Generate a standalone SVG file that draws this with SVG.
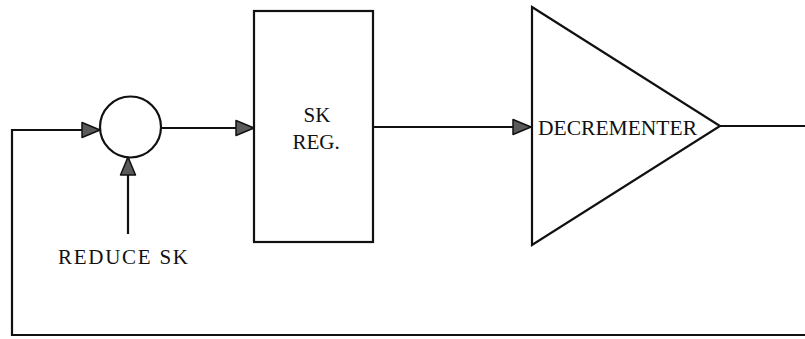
<svg xmlns="http://www.w3.org/2000/svg" width="805" height="339" viewBox="0 0 805 339">
<defs>
<marker id="arr" viewBox="0 0 20 18" refX="19" refY="9" markerWidth="20" markerHeight="18" markerUnits="userSpaceOnUse" orient="auto">
<path d="M1,1.5 L19,9 L1,16.5 Z" fill="#5a5a5a" stroke="#111" stroke-width="1.5" stroke-linejoin="round"/>
</marker>
</defs>
<style>
.s{fill:#fff;stroke:#111;stroke-width:2.2}
.c{fill:none;stroke:#111;stroke-width:2.2}
.a{marker-end:url(#arr)}
.t{font-family:"Liberation Serif",serif;font-size:21px;fill:#111}
.m{font-family:"Liberation Serif",serif;font-size:21px;fill:#111}
</style>
<g id="connectors">
<path class="c a" d="M12,336 L12,130 L100,130"/>
<path class="c a" d="M128,234 L128,157"/>
<path class="c a" d="M161,128 L254,128"/>
<path class="c a" d="M373,127 L531,127"/>
<path class="c" d="M720,126 L805,126"/>
<path class="c" d="M11,335 L805,335"/>
</g>
<g id="adder">
<circle class="s" cx="130.5" cy="127" r="30.5"/>
</g>
<g id="reduce-sk">
<text class="m" x="58" y="264" textLength="130" lengthAdjust="spacing">REDUCE SK</text>
</g>
<g id="sk-reg">
<rect class="s" x="254" y="11" width="119" height="231"/>
<text class="t" x="317" y="122" text-anchor="middle">SK</text>
<text class="t" x="316" y="149" text-anchor="middle">REG.</text>
</g>
<g id="decrementer">
<polygon class="s" points="532,7 720,126 532,245"/>
<text class="t" x="538" y="135" textLength="159" lengthAdjust="spacingAndGlyphs">DECREMENTER</text>
</g>
</svg>
